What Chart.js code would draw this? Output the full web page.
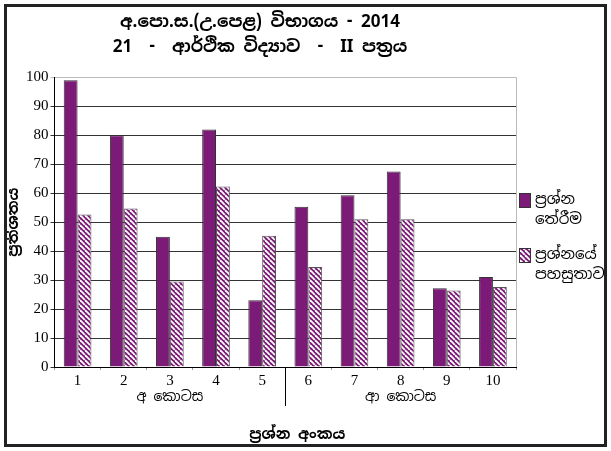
<!DOCTYPE html>
<html>
<head>
<meta charset="utf-8">
<script src="https://cdn.jsdelivr.net/npm/chart.js@4"></script>
<style>
  html, body { margin: 0; padding: 0; background: #fff; }
  #wrap { width: 611px; height: 451px; }
</style>
</head>
<body>
<div id="wrap"><canvas id="chart" width="611" height="451"></canvas></div>
<script>
const questions = ['1', '2', '3', '4', '5', '6', '7', '8', '9', '10'];
const selection = [99, 80, 45, 82, 23, 55.3, 59.3, 67.5, 27.2, 31.1];
const easiness = [52.6, 54.7, 29.5, 62.3, 45.3, 34.5, 51, 51, 26.4, 27.6];
const seriesNames = [['ප්‍රශ්න', 'තේරීම'], ['ප්‍රශ්නයේ', 'පහසුතාව']];
const groupNames = ['අ කොටස', 'ආ කොටස'];
const titleLines = ['අ.පො.ස.(උ.පෙළ) විභාගය - 2014', '21  -  ආර්ථික විද්‍යාව  -  II පත්‍රය'];

const purple = '#7b1a77';
const sinhala = "'Noto Sans Sinhala', 'Noto Sans', sans-serif";
const serif = "'Liberation Serif', 'DejaVu Serif', serif";

// diagonal white stripes on purple
function makeHatch() {
    const c = document.createElement('canvas');
    c.width = 5; c.height = 5;
    const g = c.getContext('2d');
    g.fillStyle = purple;
    g.fillRect(0, 0, 5, 5);
    g.strokeStyle = '#fff';
    g.lineWidth = 1.8;
    for (let k = -5; k <= 10; k += 5) {
        g.beginPath();
        g.moveTo(k, 0);
        g.lineTo(k + 5, 5);
        g.stroke();
    }
    return g.createPattern(c, 'repeat');
}
const hatch = makeHatch();

const extras = {
    id: 'extras',
    afterDraw(chart) {
        const ctx = chart.ctx;
        const x = chart.scales.x;
        const area = chart.chartArea;
        ctx.save();
        // frame
        ctx.strokeStyle = '#222';
        ctx.lineWidth = 3;
        ctx.strokeRect(5.5, 5.5, 600, 440);

        // separator between sections
        const sep = (x.getPixelForValue(4) + x.getPixelForValue(5)) / 2;
        ctx.strokeStyle = '#000';
        ctx.lineWidth = 1;
        ctx.beginPath();
        ctx.moveTo(Math.round(sep) + 0.5, area.bottom);
        ctx.lineTo(Math.round(sep) + 0.5, 406);
        ctx.stroke();

        // section names
        ctx.fillStyle = '#000';
        ctx.font = '14px ' + sinhala;
        ctx.textAlign = 'center';
        ctx.textBaseline = 'middle';
        ctx.fillText(groupNames[0], x.getPixelForValue(2), 397);
        ctx.fillText(groupNames[1], x.getPixelForValue(7), 397);

        // x title
        ctx.font = 'bold 15px ' + sinhala;
        ctx.fillText('ප්‍රශ්න අංකය', (area.left + area.right) / 2 + 12, 435);

        // legend
        const fills = [purple, hatch];
        const boxY = [193, 248];
        ctx.textAlign = 'left';
        ctx.font = '15px ' + sinhala;
        for (let i = 0; i < 2; i++) {
            ctx.fillStyle = fills[i];
            ctx.fillRect(519, boxY[i], 11, 14);
            ctx.strokeStyle = '#333';
            ctx.strokeRect(519.5, boxY[i] + 0.5, 11, 14);
            ctx.fillStyle = '#000';
            ctx.fillText(seriesNames[i][0], 535, boxY[i] + 7);
            ctx.fillText(seriesNames[i][1], 535, boxY[i] + 27);
        }
        ctx.restore();
    }
};

new Chart(document.getElementById('chart'), {
    type: 'bar',
    data: {
        labels: questions,
        datasets: [{
            label: seriesNames[0].join(' '),
            data: selection,
            backgroundColor: purple,
            borderColor: '#333',
            borderWidth: 1
        }, {
            label: seriesNames[1].join(' '),
            data: easiness,
            backgroundColor: hatch,
            borderColor: '#555',
            borderWidth: 1
        }]
    },
    options: {
        responsive: false,
        animation: false,
        layout: { padding: { left: 4, right: 95, top: 4, bottom: 59 } },
        categoryPercentage: 0.6,
        barPercentage: 1,
        plugins: {
            legend: { display: false },
            tooltip: { enabled: false },
            title: {
                display: true,
                text: titleLines,
                color: '#000',
                font: { family: sinhala, size: 17, weight: 'bold', lineHeight: 1.45 },
                padding: { top: 6, bottom: 18 }
            }
        },
        scales: {
            x: {
                grid: { display: true, drawOnChartArea: false, tickLength: 3, color: '#999' },
                border: { color: '#000' },
                ticks: { color: '#000', font: { family: serif, size: 15 }, padding: 2 }
            },
            y: {
                min: 0,
                max: 100,
                ticks: { stepSize: 10, color: '#000', font: { family: serif, size: 15 }, padding: 2 },
                grid: {
                    color: ctx => ctx.tick.value === 100 ? '#bbb' : '#333',
                    tickLength: 4
                },
                border: { color: '#000' },
                title: {
                    display: true,
                    text: 'ප්‍රතිශතය',
                    color: '#000',
                    font: { family: sinhala, size: 15, weight: 'bold' },
                    padding: 1
                }
            }
        }
    },
    plugins: [extras, {
        id: 'rightEdge',
        afterDraw(chart) {
            const a = chart.chartArea;
            const ctx = chart.ctx;
            ctx.save();
            ctx.strokeStyle = '#bbb';
            ctx.lineWidth = 1;
            ctx.beginPath();
            ctx.moveTo(Math.round(a.right) + 0.5, a.top);
            ctx.lineTo(Math.round(a.right) + 0.5, a.bottom);
            ctx.stroke();
            ctx.restore();
        }
    }]
});
</script>
</body>
</html>
